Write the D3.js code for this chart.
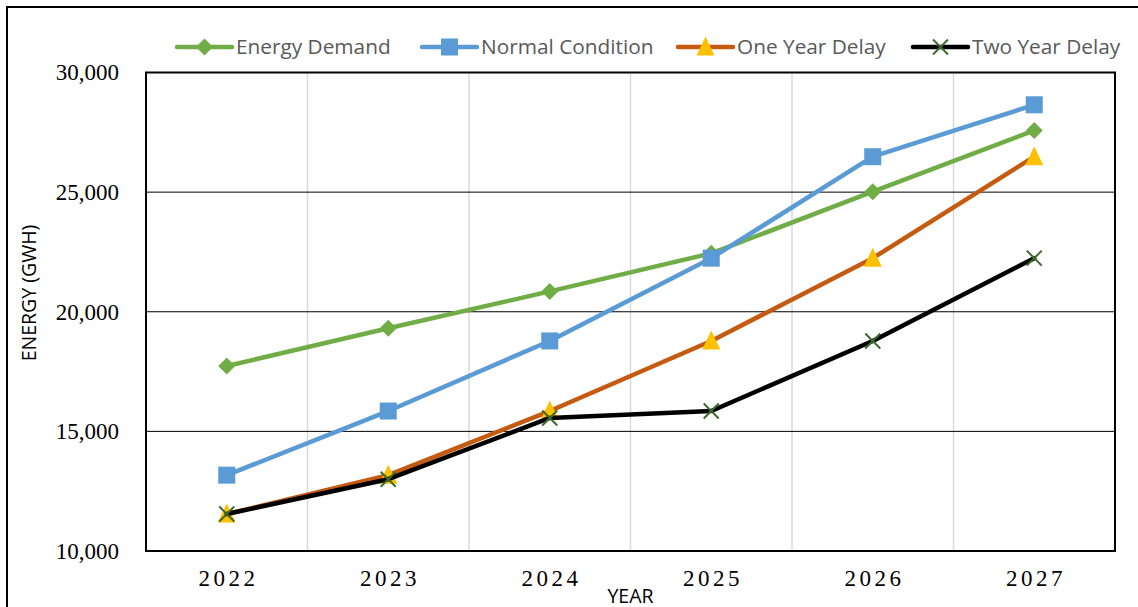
<!DOCTYPE html>
<html>
<head>
<meta charset="utf-8">
<script src="https://cdn.jsdelivr.net/npm/d3@7"></script>
<style>
  html, body { margin: 0; padding: 0; background: #fff; }
  svg { display: block; }
</style>
</head>
<body>
<svg id="chart" width="1138" height="607"></svg>
<script>
// Annual energy figures (GWh) by scenario
const years = ["2022", "2023", "2024", "2025", "2026", "2027"];
const energyDemand    = [17730, 19310, 20850, 22440, 25020, 27580];
const normalCondition = [13170, 15850, 18780, 22240, 26480, 28650];
const oneYearDelay    = [11545, 13170, 15850, 18780, 22240, 26480];
const twoYearDelay    = [11545, 13000, 15560, 15850, 18780, 22240];
const yTicks = [10000, 15000, 20000, 25000, 30000];

const series = [
  { name: "Energy Demand",    values: energyDemand,    line: "#70AD47", marker: "diamond",  fill: "#70AD47" },
  { name: "Normal Condition", values: normalCondition, line: "#5B9BD5", marker: "square",   fill: "#5B9BD5" },
  { name: "One Year Delay",   values: oneYearDelay,    line: "#C55A11", marker: "triangle", fill: "#FFC000" },
  { name: "Two Year Delay",   values: twoYearDelay,    line: "#000000", marker: "cross",    fill: "#3E6B2B" }
];

const svg = d3.select("#chart");
const plot = { left: 146, top: 72.5, right: 1115, bottom: 551 };

const x = d3.scaleBand().domain(years).range([plot.left, plot.right]);
const y = d3.scaleLinear().domain([10000, 30000]).range([plot.bottom, plot.top]);
const cx = d => x(d) + x.bandwidth() / 2;

// outer frame
svg.append("rect")
  .attr("x", 7).attr("y", 7).attr("width", 1140).attr("height", 620)
  .attr("fill", "#fff").attr("stroke", "#000").attr("stroke-width", 2);

// vertical category separators
svg.append("g").selectAll("line")
  .data(years.slice(1))
  .join("line")
  .attr("x1", d => x(d)).attr("x2", d => x(d))
  .attr("y1", plot.top).attr("y2", plot.bottom)
  .attr("stroke", "#d9d9d9").attr("stroke-width", 1.5);

// horizontal gridlines
svg.append("g").selectAll("line")
  .data(yTicks.slice(1, -1))
  .join("line")
  .attr("x1", plot.left).attr("x2", plot.right)
  .attr("y1", d => y(d)).attr("y2", d => y(d))
  .attr("stroke", "#000").attr("stroke-width", 1);

// plot frame
svg.append("rect")
  .attr("x", plot.left).attr("y", plot.top)
  .attr("width", plot.right - plot.left).attr("height", plot.bottom - plot.top)
  .attr("fill", "none").attr("stroke", "#000").attr("stroke-width", 2);

// y axis labels
const yAxis = d3.axisLeft(y).tickValues(yTicks).tickSize(0).tickPadding(27)
  .tickFormat(d3.format(","));
const yg = svg.append("g").attr("transform", `translate(${plot.left},0)`).call(yAxis);
yg.select(".domain").remove();
yg.selectAll("text")
  .attr("font-family", "'Liberation Serif', 'Times New Roman', serif")
  .attr("font-size", 23).attr("fill", "#000");

// x axis labels
const xAxis = d3.axisBottom(x).tickSize(0).tickPadding(19);
const xg = svg.append("g").attr("transform", `translate(0,${plot.bottom})`).call(xAxis);
xg.select(".domain").remove();
xg.selectAll("text")
  .attr("font-family", "'Liberation Serif', 'Times New Roman', serif")
  .attr("font-size", 23).attr("letter-spacing", 3.5).attr("fill", "#000")
  .attr("dx", 1.75);

// axis titles
svg.append("text")
  .attr("transform", "translate(36,293) rotate(-90)")
  .attr("text-anchor", "middle")
  .attr("font-family", "'Open Sans', sans-serif")
  .attr("font-size", 19.5).attr("fill", "#000")
  .text("ENERGY (GWH)");

svg.append("text")
  .attr("x", (plot.left + plot.right) / 2).attr("y", 603)
  .attr("text-anchor", "middle")
  .attr("font-family", "'Open Sans', sans-serif")
  .attr("font-size", 19.5).attr("fill", "#000")
  .text("YEAR");

// marker drawing
function drawMarker(g, type, fill, px, py) {
  if (type === "diamond") {
    const r = 8.5;
    g.append("path").attr("d", `M${px},${py - r}L${px + r},${py}L${px},${py + r}L${px - r},${py}Z`)
      .attr("fill", fill);
  } else if (type === "square") {
    const s = 17;
    g.append("rect").attr("x", px - s / 2).attr("y", py - s / 2)
      .attr("width", s).attr("height", s).attr("fill", fill);
  } else if (type === "triangle") {
    const h = 19, w = 18;
    g.append("path")
      .attr("d", `M${px},${py - h * 0.55}L${px + w / 2},${py + h * 0.45}L${px - w / 2},${py + h * 0.45}Z`)
      .attr("fill", fill);
  } else if (type === "cross") {
    const r = 7.5;
    g.append("path").attr("d", `M${px - r},${py - r}L${px + r},${py + r}M${px - r},${py + r}L${px + r},${py - r}`)
      .attr("stroke", fill).attr("stroke-width", 2).attr("fill", "none");
  }
}

const line = d3.line().x((d, i) => cx(years[i])).y(d => y(d));

series.forEach(s => {
  const g = svg.append("g");
  g.append("path").datum(s.values)
    .attr("d", line)
    .attr("fill", "none").attr("stroke", s.line)
    .attr("stroke-width", 4.5).attr("stroke-linejoin", "round").attr("stroke-linecap", "round");
  s.values.forEach((v, i) => drawMarker(g, s.marker, s.fill, cx(years[i]), y(v)));
});

// legend
const legendX = [177, 422, 678, 913];
const legendY = 47;
series.forEach((s, i) => {
  const g = svg.append("g");
  const x0 = legendX[i], x1 = x0 + 55;
  g.append("line").attr("x1", x0).attr("x2", x1).attr("y1", legendY).attr("y2", legendY)
    .attr("stroke", s.line).attr("stroke-width", 4.5).attr("stroke-linecap", "round");
  drawMarker(g, s.marker, s.fill, (x0 + x1) / 2, legendY);
  g.append("text").attr("x", x1 + 4).attr("y", legendY).attr("dy", "0.35em")
    .attr("font-family", "'Open Sans', sans-serif")
    .attr("font-size", 20.8).attr("fill", "#595959")
    .text(s.name);
});
</script>
</body>
</html>
